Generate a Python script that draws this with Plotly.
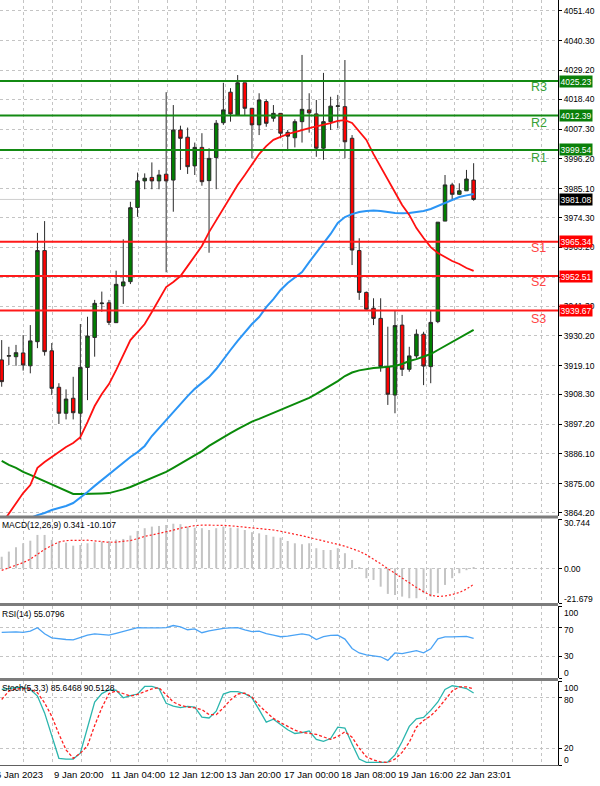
import plotly.graph_objects as go

# ---------------- data ----------------
bar_index = list(range(67))

opens = [3921.2, 3922.6, 3922.4, 3923.8, 3919.0, 3928.0, 3962.0, 3924.6, 3911.0, 3901.3,
         3906.9, 3901.3, 3918.4, 3929.6, 3942.2, 3942.5, 3935.1, 3948.8, 3950.4, 3978.1,
         3988.0, 3989.3, 3988.0, 3990.5, 3988.3, 4007.0, 4004.3, 3993.6, 4000.5, 3988.1,
         3996.7, 4009.7, 4021.1, 4012.6, 4024.6, 4015.1, 4008.9, 4017.6, 4011.4, 4013.2,
         4006.1, 4004.1, 4010.1, 4014.5, 4013.0, 4000.2, 4010.1, 4015.8, 4015.7, 4003.9,
         3962.0, 3946.4, 3940.5, 3936.7, 3918.7, 3908.1, 3934.2, 3917.7, 3922.7, 3930.8,
         3918.7, 3935.5, 3973.0, 3986.5, 3983.0, 3984.3, 3988.3]
highs = [3928.6, 3926.1, 3926.8, 3930.5, 3934.2, 3968.6, 3973.0, 3927.5, 3912.5, 3910.2,
         3914.9, 3934.6, 3937.3, 3943.6, 3946.7, 3943.6, 3954.5, 3966.2, 3980.2, 3991.1,
         3990.8, 3994.9, 3992.1, 4021.1, 4016.3, 4008.6, 4007.9, 4002.3, 4005.8, 4000.2,
         4010.7, 4024.6, 4022.6, 4027.5, 4024.6, 4015.1, 4020.7, 4018.4, 4016.3, 4013.2,
         4007.0, 4011.0, 4035.0, 4020.7, 4018.2, 4028.3, 4019.4, 4020.1, 4033.1, 4005.1,
         3966.6, 3946.7, 3944.2, 3944.2, 3933.6, 3939.6, 3938.0, 3926.1, 3932.6, 3931.7,
         3939.6, 3972.6, 3990.2, 3987.3, 3987.1, 3992.1, 3994.6]
lows = [3911.2, 3919.3, 3919.0, 3917.2, 3916.2, 3925.6, 3922.8, 3908.1, 3897.3, 3899.0,
        3899.0, 3891.5, 3906.2, 3922.4, 3939.2, 3934.2, 3935.0, 3942.1, 3949.5, 3974.6,
        3984.9, 3984.9, 3984.9, 3953.9, 3976.5, 3992.1, 3990.6, 3990.2, 3986.2, 3961.2,
        3984.9, 4008.9, 4010.1, 4012.6, 4012.6, 3996.4, 4005.1, 4008.2, 4010.1, 4003.9,
        3999.8, 4000.5, 4002.3, 4006.0, 3997.0, 3995.9, 4007.0, 4007.6, 3996.4, 3956.6,
        3943.6, 3939.8, 3934.2, 3916.8, 3904.4, 3901.3, 3915.2, 3916.8, 3921.8, 3911.8,
        3912.5, 3934.9, 3973.0, 3980.9, 3982.7, 3984.3, 3980.6]
closes = [3913.1, 3922.8, 3923.9, 3919.3, 3928.3, 3962.0, 3924.3, 3910.6, 3901.3, 3906.6,
          3901.5, 3918.4, 3930.1, 3942.3, 3942.4, 3935.2, 3949.4, 3950.3, 3978.0, 3988.0,
          3989.0, 3988.0, 3990.2, 3988.0, 4007.0, 4003.9, 3993.3, 4000.5, 3987.7, 3996.4,
          4009.5, 4014.5, 4013.0, 4024.6, 4015.1, 4008.9, 4018.2, 4009.5, 4013.2, 4005.8,
          4004.7, 4010.1, 4014.7, 4013.4, 4000.2, 4010.1, 4015.9, 4016.0, 4002.6, 3962.2,
          3946.4, 3940.1, 3936.7, 3918.7, 3908.4, 3934.0, 3917.7, 3922.7, 3930.8, 3918.9,
          3935.2, 3972.6, 3986.5, 3983.0, 3984.3, 3988.7, 3981.08]

ma_red = [3860.0, 3863.7, 3867.8, 3871.5, 3874.5, 3880.9, 3883.1, 3885.0, 3886.8, 3888.7,
          3890.2, 3892.4, 3898.0, 3904.0, 3908.5, 3912.2, 3917.4, 3923.0, 3928.6, 3931.6,
          3934.6, 3939.1, 3943.9, 3948.4, 3950.3, 3952.5, 3956.2, 3960.0, 3963.7, 3968.9,
          3973.4, 3977.9, 3982.4, 3986.5, 3990.2, 3994.3, 3998.0, 4001.0, 4003.3, 4004.4,
          4005.5, 4006.2, 4007.0, 4007.7, 4008.3, 4008.9, 4009.6, 4010.4, 4010.7, 4009.6,
          4006.6, 4003.3, 3998.0, 3993.2, 3988.7, 3983.9, 3979.0, 3975.3, 3970.4, 3966.7,
          3963.3, 3961.1, 3959.6, 3958.1, 3957.0, 3955.5, 3954.4]
ma_blue = [3857.7, 3858.9, 3860.0, 3861.1, 3862.2, 3863.3, 3864.1, 3865.2, 3866.0, 3866.7,
           3867.8, 3869.7, 3871.9, 3874.2, 3876.4, 3878.6, 3880.5, 3882.7, 3885.0, 3886.8,
           3889.1, 3892.8, 3895.8, 3898.8, 3901.8, 3905.1, 3907.7, 3910.4, 3912.6, 3914.8,
           3917.8, 3921.5, 3924.9, 3928.3, 3931.6, 3934.6, 3937.2, 3940.9, 3943.9, 3947.3,
           3949.9, 3952.1, 3954.0, 3957.7, 3961.1, 3964.8, 3968.2, 3972.3, 3974.5, 3975.6,
           3976.4, 3976.8, 3977.0, 3976.8, 3976.4, 3976.0, 3975.9, 3976.0, 3976.4, 3976.8,
           3977.5, 3978.6, 3979.8, 3980.9, 3982.0, 3982.6, 3983.1]
ma_green = [3883.5, 3882.0, 3880.9, 3879.4, 3878.3, 3877.1, 3876.0, 3874.5, 3873.4, 3872.3,
            3871.2, 3871.2, 3871.2, 3871.2, 3871.4, 3871.5, 3872.1, 3872.9, 3873.8, 3874.9,
            3875.8, 3877.1, 3878.3, 3879.4, 3880.9, 3882.4, 3883.9, 3885.7, 3887.2, 3889.1,
            3890.8, 3892.4, 3893.9, 3895.4, 3896.9, 3898.2, 3899.2, 3900.3, 3901.2, 3902.5,
            3903.6, 3904.6, 3905.7, 3907.0, 3908.5, 3910.0, 3911.5, 3913.3, 3915.2, 3916.5,
            3917.3, 3917.8, 3918.2, 3918.4, 3918.6, 3918.9, 3919.7, 3920.8, 3921.5, 3922.5,
            3923.4, 3924.9, 3926.4, 3927.9, 3929.4, 3930.9, 3932.4]

macd_main = [7.2, 10.4, 13.1, 15.6, 17.2, 20.8, 20.8, 17.7, 16.6, 16.0,
             14.1, 14.5, 15.6, 16.2, 16.6, 17.0, 17.9, 18.3, 20.4, 23.3,
             25.0, 26.0, 26.4, 27.0, 27.8, 27.5, 26.0, 25.3, 25.0, 23.9,
             25.0, 26.0, 25.3, 25.0, 23.9, 22.5, 21.8, 20.8, 19.7, 19.1,
             17.0, 15.6, 15.0, 15.6, 12.5, 11.4, 11.4, 12.5, 9.4, 5.2,
             0.3, -6.2, -7.3, -11.5, -16.0, -16.7, -17.7, -18.7, -18.7, -15.6,
             -17.7, -15.6, -10.4, -6.2, -3.1, -1.2, 0.341]
macd_signal = [-1.3, 0.2, 1.9, 3.5, 5.7, 8.8, 11.8, 14.2, 16.4, 17.3,
               17.5, 17.6, 17.5, 17.1, 16.5, 16.2, 16.3, 16.6, 17.3, 18.5,
               19.9, 20.8, 21.7, 22.8, 23.8, 25.0, 26.0, 26.6, 26.9, 27.0,
               27.0, 26.8, 26.5, 26.1, 25.7, 25.3, 24.9, 24.4, 23.9, 23.1,
               22.0, 21.2, 20.3, 19.2, 18.2, 17.0, 15.9, 15.0, 13.8, 12.2,
               10.6, 8.4, 5.8, 2.8, -0.2, -3.2, -6.0, -9.1, -12.0, -14.6,
               -16.9, -17.6, -17.3, -16.4, -15.1, -13.0, -10.107]

rsi_values = [63.3, 63.8, 64.2, 63.5, 65.2, 69.8, 61.5, 55.7, 54.2, 53.5,
              52.9, 56.5, 59.5, 61.4, 60.5, 59.5, 62.0, 64.5, 67.5, 70.0,
              69.5, 69.0, 69.5, 70.0, 72.9, 71.0, 67.0, 68.1, 62.9, 65.5,
              67.5, 69.0, 69.5, 70.0, 67.0, 64.3, 65.2, 61.5, 59.5, 57.3,
              58.2, 59.5, 61.4, 59.5, 53.5, 57.5, 59.3, 59.5, 54.0, 41.0,
              34.8, 32.2, 31.0, 29.5, 24.5, 34.8, 33.8, 35.5, 38.0, 35.0,
              40.5, 54.5, 57.0, 57.1, 57.1, 57.8, 55.0796]

stoch_main = [90, 91, 92, 92, 90, 82, 62, 35, 8, 7,
              7, 14, 45, 75, 85, 89.3, 89, 80, 82.5, 84.5,
              93.5, 93.5, 91, 73.5, 70, 68.2, 69.8, 69, 57, 56,
              64, 84.5, 87.3, 87.3, 85, 80, 66, 51, 54.5, 48,
              42, 37.5, 38.5, 40.5, 30.5, 28.2, 31.5, 45, 44, 25,
              7, 3.2, 3.0, 3.2, 3.5, 12, 28, 46, 55, 56.7,
              65, 75, 90, 94.3, 93, 91, 85.6468]
stoch_signal = [78, 88, 90.5, 91.3, 90.5, 86, 74, 58, 37, 18,
                8, 14, 23, 47, 68, 85, 88, 85, 82, 84,
                87, 90.5, 92, 83, 75, 71, 69, 68, 66, 60,
                60, 68, 77.5, 84.5, 85.5, 81, 71, 63, 55.5, 50.5,
                46, 41.5, 38.8, 37.5, 36.5, 33.5, 30.5, 34, 39.5, 33,
                20, 9.8, 6, 3.6, 3.1, 7, 15, 27, 45, 53,
                58.5, 67, 77.5, 88, 93, 93, 90.5128]

level_names = ["R3", "R2", "R1", "S1", "S2", "S3"]
level_values = [4025.23, 4012.39, 3999.54, 3965.34, 3952.51, 3939.67]
level_line_colors = ["#138a13", "#138a13", "#138a13", "#ff1a1a", "#ff1a1a", "#ff1a1a"]
level_box_colors = ["#0a800a", "#0a800a", "#0a800a", "#ff0000", "#ff0000", "#ff0000"]
level_text_colors = ["#37a037", "#37a037", "#37a037", "#ff4545", "#ff4545", "#ff4545"]
level_text_shift = [-6, -7, -8, -6, -6, -9]
last_price = 3981.08

price_ticks = [4051.40, 4040.30, 4029.20, 4018.40, 4007.30, 3996.20, 3985.10, 3974.30,
               3963.20, 3952.10, 3941.30, 3930.20, 3919.10, 3908.30, 3897.20, 3886.10,
               3875.00, 3864.20]
# the 3952.10 label is fully hidden under the S2 price box in the reference
price_tick_text = [f"{v:.2f}" if abs(v - 3952.10) > 0.01 else "" for v in price_ticks]

grid_x = [3.09 + 4.02 * k for k in range(19)]
date_label_pos = [7.11, 15.15, 23.19, 31.23, 39.27, 47.31, 55.35, 63.39]
date_label_text = ["9 Jan 20:00", "11 Jan 04:00", "12 Jan 12:00", "13 Jan 20:00",
                   "17 Jan 00:00", "18 Jan 08:00", "19 Jan 16:00", "22 Jan 23:01"]

macd_ticks = [30.744, 0.0, -21.679]
macd_tick_text = ["30.744", "0.00", "-21.679"]
macd_tick_shift = [-4, -1, 4]
osc_ticks_rsi = [100, 70, 30, 0]
osc_ticks_stoch = [100, 80, 20, 0]
osc_tick_shift = [-7, -2, 0, 5]

# ---------------- figure ----------------
FONT = "Liberation Sans"
PLOT_H = 765.0
X_RANGE = [-0.2378, 77.8]
GRID = dict(showgrid=True, gridcolor="#c4c4c4", gridwidth=1, griddash="3px,3px")


def ypx(p):
    return 1 - p / PLOT_H


fig = go.Figure()

fig.add_trace(go.Candlestick(
    x=bar_index, open=opens, high=highs, low=lows, close=closes,
    increasing=dict(line=dict(color="#2a2a2a", width=1), fillcolor="#008000"),
    decreasing=dict(line=dict(color="#2a2a2a", width=1), fillcolor="#ff0000"),
    whiskerwidth=0, xaxis="x", yaxis="y", hoverinfo="skip"))
fig.add_trace(go.Scatter(x=bar_index, y=ma_green, mode="lines",
                         line=dict(color="#0a8a0a", width=2), xaxis="x", yaxis="y"))
fig.add_trace(go.Scatter(x=bar_index, y=ma_blue, mode="lines",
                         line=dict(color="#2b95f5", width=2), xaxis="x", yaxis="y"))
fig.add_trace(go.Scatter(x=bar_index, y=ma_red, mode="lines",
                         line=dict(color="#ff1010", width=1.8), xaxis="x", yaxis="y"))

fig.add_trace(go.Bar(x=bar_index, y=macd_main, width=0.28, marker_color="#c4c4c4",
                     marker_line_width=0, xaxis="x2", yaxis="y2"))
fig.add_trace(go.Scatter(x=bar_index, y=macd_signal, mode="lines",
                         line=dict(color="#ff2020", width=1.2, dash="2px,2px"),
                         xaxis="x2", yaxis="y2"))

fig.add_trace(go.Scatter(x=bar_index, y=rsi_values, mode="lines",
                         line=dict(color="#4aa3f5", width=1.3), xaxis="x3", yaxis="y3"))

fig.add_trace(go.Scatter(x=bar_index, y=stoch_main, mode="lines",
                         line=dict(color="#2ab5ad", width=1.3), xaxis="x4", yaxis="y4"))
fig.add_trace(go.Scatter(x=bar_index, y=stoch_signal, mode="lines",
                         line=dict(color="#ff2020", width=1.3, dash="3px,2px"),
                         xaxis="x4", yaxis="y4"))

xcommon = dict(range=X_RANGE, tickvals=grid_x, showticklabels=False, ticks="",
               zeroline=False, fixedrange=True, **GRID)
ycommon = dict(side="right", showline=True, linecolor="#000000", linewidth=1,
               ticks="outside", ticklen=3, tickcolor="#000000", zeroline=False,
               fixedrange=True, tickfont=dict(family=FONT, size=8.5, color="#000000"))

fig.update_layout(
    width=600, height=786,
    margin=dict(l=0, r=42, t=0, b=21),
    paper_bgcolor="#ffffff", plot_bgcolor="#ffffff",
    showlegend=False, hovermode=False,
    xaxis=dict(domain=[0, 1], anchor="y", rangeslider=dict(visible=False), **xcommon),
    xaxis2=dict(domain=[0, 1], anchor="y2", matches="x", **xcommon),
    xaxis3=dict(domain=[0, 1], anchor="y3", matches="x", **xcommon),
    xaxis4=dict(domain=[0, 1], anchor="y4", matches="x", showline=True,
                linecolor="#606060", linewidth=1, **xcommon),
    yaxis=dict(domain=[ypx(516), 1], range=[3862.96, 4055.5], tickvals=price_ticks,
               ticktext=price_tick_text, **GRID, **ycommon),
    yaxis2=dict(domain=[ypx(603), ypx(519)], range=[-21.679, 30.744],
                tickvals=macd_ticks, showticklabels=False, **GRID, **ycommon),
    yaxis3=dict(domain=[ypx(678), ypx(606)], range=[0, 100],
                tickvals=osc_ticks_rsi, showticklabels=False, **GRID, **ycommon),
    yaxis4=dict(domain=[0, ypx(681)], range=[0, 100],
                tickvals=osc_ticks_stoch, showticklabels=False, **GRID, **ycommon),
)

shapes = []
# last price line
shapes.append(dict(type="line", xref="paper", yref="y", x0=0, x1=1, y0=last_price,
                   y1=last_price, line=dict(color="#cfcfcf", width=1), layer="below"))
# pivot levels
for val, col in zip(level_values, level_line_colors):
    shapes.append(dict(type="line", xref="paper", yref="y", x0=0, x1=1, y0=val, y1=val,
                       line=dict(color=col, width=2), layer="above"))
# panel separators
for top, bot in [(515.5, 518.5), (603.0, 606.0), (678.0, 681.0)]:
    shapes.append(dict(type="rect", xref="paper", yref="paper", x0=0, x1=1,
                       y0=ypx(bot), y1=ypx(top), fillcolor="#7c7c7c",
                       line=dict(width=0), layer="above"))
fig.update_layout(shapes=shapes)

ann = []
# level names and price boxes
for name, val, tcol, bcol, sh in zip(level_names, level_values, level_text_colors,
                                     level_box_colors, level_text_shift):
    ann.append(dict(text=name, xref="paper", yref="y", x=538.5 / 558, y=val,
                    xanchor="center", yanchor="middle", yshift=sh, showarrow=False,
                    font=dict(family=FONT, size=12.5, color=tcol)))
    ann.append(dict(text=f"{val:.2f}", xref="paper", yref="y", x=1, y=val,
                    xanchor="left", yanchor="middle", xshift=1, showarrow=False,
                    bgcolor=bcol, borderpad=0.5,
                    font=dict(family=FONT, size=8.5, color="#ffffff")))
ann.append(dict(text=f"{last_price:.2f}", xref="paper", yref="y", x=1, y=last_price,
                xanchor="left", yanchor="middle", xshift=1, showarrow=False,
                bgcolor="#000000", borderpad=0.5,
                font=dict(family=FONT, size=8.5, color="#ffffff")))

# oscillator scale labels
for v, t, sh in zip(macd_ticks, macd_tick_text, macd_tick_shift):
    ann.append(dict(text=t, xref="paper", yref="y2", x=1, y=v, xanchor="left",
                    yanchor="middle", xshift=4, yshift=sh, showarrow=False,
                    font=dict(family=FONT, size=8.5, color="#000000")))
for v, sh in zip(osc_ticks_rsi, osc_tick_shift):
    ann.append(dict(text=str(v), xref="paper", yref="y3", x=1, y=v, xanchor="left",
                    yanchor="middle", xshift=4, yshift=sh, showarrow=False,
                    font=dict(family=FONT, size=8.5, color="#000000")))
for v, sh in zip(osc_ticks_stoch, osc_tick_shift):
    ann.append(dict(text=str(v), xref="paper", yref="y4", x=1, y=v, xanchor="left",
                    yanchor="middle", xshift=4, yshift=sh, showarrow=False,
                    font=dict(family=FONT, size=8.5, color="#000000")))

# indicator titles
for txt, py in [("MACD(12,26,9) 0.341 -10.107", 525), ("RSI(14) 55.0796", 614),
                ("Stoch(5,3,3) 85.6468 90.5128", 688)]:
    ann.append(dict(text=txt, xref="paper", yref="paper", x=0, y=ypx(py),
                    xanchor="left", yanchor="middle", showarrow=False,
                    font=dict(family=FONT, size=8.5, color="#000000")))

# date labels
for pos, txt in zip(date_label_pos, date_label_text):
    ann.append(dict(text=txt, xref="x4", yref="paper", x=pos, y=ypx(774),
                    xanchor="left", yanchor="middle", xshift=-1, showarrow=False,
                    font=dict(family=FONT, size=9.5, color="#000000")))
ann.append(dict(text="6 Jan 2023", xref="x4", yref="paper", x=-0.2, y=ypx(774),
                xanchor="left", yanchor="middle", xshift=-6, showarrow=False,
                font=dict(family=FONT, size=9.5, color="#000000")))

fig.update_layout(annotations=ann)

fig.write_html("out.html")
